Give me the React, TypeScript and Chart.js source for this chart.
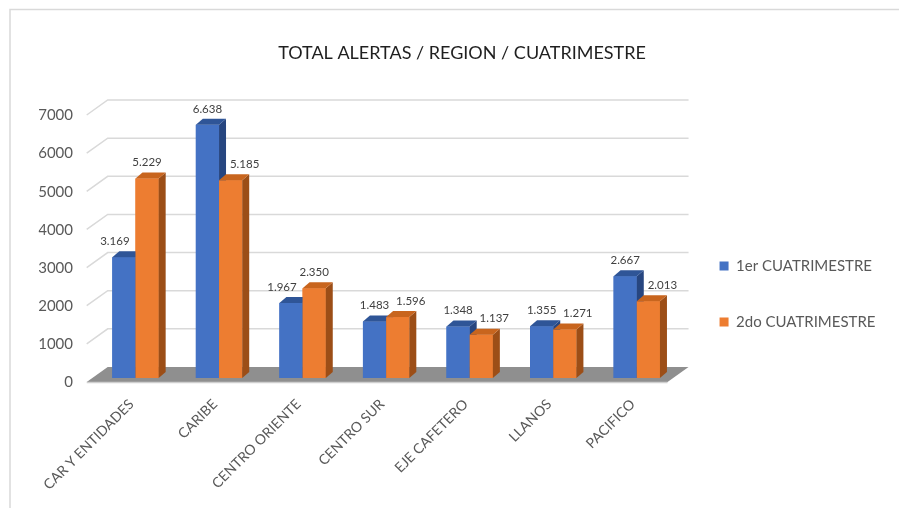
import React, { useEffect, useRef } from 'react';
import { Chart, registerables } from 'chart.js';

Chart.register(...registerables);

const chartTitle = 'TOTAL ALERTAS / REGION / CUATRIMESTRE';
const categories = ['CAR Y ENTIDADES', 'CARIBE', 'CENTRO ORIENTE', 'CENTRO SUR', 'EJE CAFETERO', 'LLANOS', 'PACIFICO'];
const seriesNames = ['1er CUATRIMESTRE', '2do CUATRIMESTRE'];
const firstTerm = [3169, 6638, 1967, 1483, 1348, 1355, 2667];
const secondTerm = [5229, 5185, 2350, 1596, 1137, 1271, 2013];
const yMin = 0;
const yMax = 7000;
const yStep = 1000;

const FRONT = ['#4472C4', '#ED7D31'];
const TOP = ['#2F5597', '#C8651E'];
const SIDE = ['#274680', '#9C4E17'];
const DX = 7;
const DY = -6;
const FONT = 'Lato, "Open Sans", "DejaVu Sans", sans-serif';

const fmt = (v: number) => String(v).replace(/\B(?=(\d{3})+(?!\d))/g, '.');

const threeD = {
  id: 'threeD',
  beforeDraw(chart: any) {
    const { ctx, width, height } = chart;
    ctx.save();
    ctx.strokeStyle = '#d9d9d9';
    ctx.lineWidth = 1.5;
    ctx.beginPath();
    ctx.moveTo(10, height);
    ctx.lineTo(10, 9.5);
    ctx.lineTo(width, 9.5);
    ctx.stroke();
    ctx.restore();
  },
  beforeDatasetsDraw(chart: any) {
    const { ctx, chartArea, scales } = chart;
    const L = chartArea.left;
    const R = chartArea.right;
    const y = scales.y;
    ctx.save();
    ctx.strokeStyle = '#d9d9d9';
    ctx.lineWidth = 1.5;
    y.ticks.forEach((t: any) => {
      if (t.value === 0) return;
      const yv = y.getPixelForValue(t.value);
      ctx.beginPath();
      ctx.moveTo(L - 7, yv + 4);
      ctx.lineTo(L + 14, yv - 11);
      ctx.lineTo(R + 10, yv - 11);
      ctx.stroke();
    });
    const y0 = y.getPixelForValue(0);
    ctx.fillStyle = '#8f8f8f';
    ctx.beginPath();
    ctx.moveTo(L - 7, y0 + 4);
    ctx.lineTo(R - 11, y0 + 4);
    ctx.lineTo(R + 10, y0 - 11);
    ctx.lineTo(L + 14, y0 - 11);
    ctx.closePath();
    ctx.fill();
    ctx.strokeStyle = '#cfcfcf';
    ctx.lineWidth = 1.5;
    ctx.beginPath();
    ctx.moveTo(L - 7, y0 + 4.5);
    ctx.lineTo(R - 11, y0 + 4.5);
    ctx.stroke();
    ctx.restore();
  },
  afterDatasetsDraw(chart: any) {
    const { ctx } = chart;
    const n = chart.data.labels.length;
    ctx.save();
    for (let i = 0; i < n; i++) {
      const bars: any[] = [];
      for (let d = 0; d < chart.data.datasets.length; d++) {
        const el = chart.getDatasetMeta(d).data[i];
        const p = el.getProps(['x', 'y', 'base', 'width'], true);
        bars.push(p);
        const l = p.x - p.width / 2;
        const r = p.x + p.width / 2;
        ctx.fillStyle = FRONT[d];
        ctx.fillRect(l, p.y, p.width, p.base - p.y);
        ctx.fillStyle = SIDE[d];
        ctx.beginPath();
        ctx.moveTo(r, p.y);
        ctx.lineTo(r + DX, p.y + DY);
        ctx.lineTo(r + DX, p.base + DY);
        ctx.lineTo(r, p.base);
        ctx.closePath();
        ctx.fill();
        ctx.fillStyle = TOP[d];
        ctx.beginPath();
        ctx.moveTo(l, p.y);
        ctx.lineTo(l + DX, p.y + DY);
        ctx.lineTo(r + DX, p.y + DY);
        ctx.lineTo(r, p.y);
        ctx.closePath();
        ctx.fill();
      }
      // value labels
      ctx.font = '11.5px ' + FONT;
      ctx.fillStyle = '#404040';
      ctx.textAlign = 'center';
      ctx.textBaseline = 'middle';
      const vals = chart.data.datasets.map((ds: any) => ds.data[i]);
      const txt = vals.map(fmt);
      const w = txt.map((t: string) => ctx.measureText(t).width);
      const cx = bars.map((b) => b.x);
      const cy = bars.map((b) => b.y - 16);
      const hitBar = (k: number, b: any) =>
        cx[k] + w[k] / 2 > b.x - b.width / 2 && cx[k] - w[k] / 2 < b.x + b.width / 2 + DX && cy[k] + 5 > b.y + DY;
      const labelsOverlap = () =>
        Math.abs(cy[0] - cy[1]) < 12 && Math.abs(cx[0] - cx[1]) < (w[0] + w[1]) / 2;
      if (labelsOverlap()) cx[1] += 13;
      else if (hitBar(0, bars[1])) cx[0] -= 9;
      if (hitBar(1, bars[0]) && cx[1] === bars[1].x) cx[1] += 14;
      for (let k = 0; k < txt.length; k++) ctx.fillText(txt[k], cx[k], cy[k]);
    }
    ctx.restore();
  },
};

export default function App() {
  const ref = useRef<HTMLCanvasElement>(null);
  useEffect(() => {
    const chart = new Chart(ref.current as HTMLCanvasElement, {
      type: 'bar',
      data: {
        labels: categories,
        datasets: [
          { label: seriesNames[0], data: firstTerm, backgroundColor: FRONT[0] },
          { label: seriesNames[1], data: secondTerm, backgroundColor: FRONT[1] },
        ],
      },
      options: {
        responsive: false,
        animation: false,
        layout: { padding: { left: 38.5, right: 13.5, top: 80, bottom: 0 } },
        datasets: { bar: { barPercentage: 1, categoryPercentage: 0.555 } },
        scales: {
          x: {
            grid: { display: false, drawTicks: false },
            border: { display: false },
            ticks: {
              autoSkip: false,
              minRotation: 45,
              maxRotation: 45,
              labelOffset: -4,
              padding: 18,
              color: '#595959',
              font: { family: FONT, size: 14 },
            },
            afterFit: (s: any) => {
              s.height = 130;
            },
          },
          y: {
            min: yMin,
            max: yMax,
            grid: { display: false, drawTicks: false },
            border: { display: false },
            ticks: {
              stepSize: yStep,
              padding: 20.7,
              labelOffset: 4.5,
              color: '#595959',
              font: { family: FONT, size: 15 },
              callback: (v: any) => String(v),
            },
            afterFit: (s: any) => {
              s.width = 55.2;
            },
          },
        },
        plugins: {
          title: {
            display: true,
            text: chartTitle,
            color: '#1f1f1f',
            font: { family: FONT, size: 18, weight: 'normal' },
            padding: { top: -38, bottom: 47.4 },
          },
          legend: {
            position: 'right',
            labels: {
              boxWidth: 9,
              boxHeight: 9,
              padding: 41,
              color: '#595959',
              font: { family: FONT, size: 15 },
            },
          },
          tooltip: { enabled: false },
        },
      },
      plugins: [threeD],
    });
    (document as any).fonts?.load('14px Lato').then(() => chart.update());
    return () => chart.destroy();
  }, []);
  return (
    <div style={{ position: 'absolute', left: 0, top: 0, width: 899, height: 508, background: '#fff' }}>
      <canvas ref={ref} width={899} height={508} style={{ display: 'block' }} />
    </div>
  );
}
